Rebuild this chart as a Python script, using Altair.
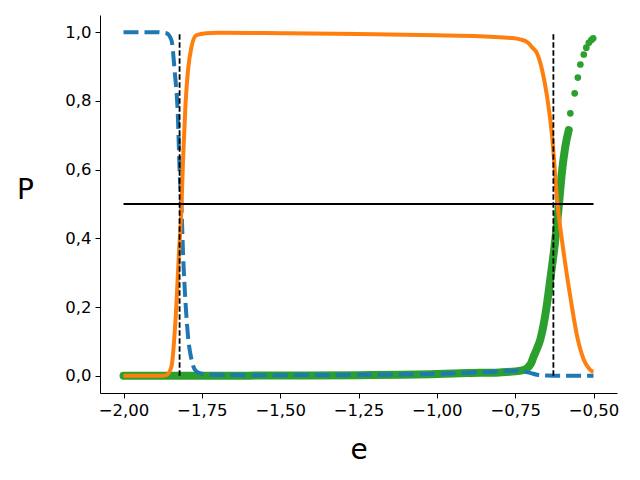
import altair as alt
import pandas as pd

# ---- data ----
blue_x = [-2.0, -1.90, -1.863, -1.847, -1.837, -1.826, -1.821, -1.815, -1.810, -1.802, -1.794,
          -1.783, -1.768, -1.75, -1.714, -1.6, -1.5, -1.25, -1.0, -0.9, -0.85, -0.8, -0.75,
          -0.73, -0.70, -0.68, -0.65, -0.6, -0.55, -0.5]
blue_y = [1.0, 1.0, 0.997, 0.977, 0.89, 0.744, 0.599, 0.492, 0.357, 0.212, 0.114,
          0.047, 0.013, 0.006, 0.003, 0.002, 0.002, 0.003, 0.006, 0.009, 0.011, 0.013, 0.015,
          0.014, 0.008, 0.003, 0.001, 0.0, 0.0, 0.0]

orange_x = [-2.0, -1.88, -1.863, -1.847, -1.834, -1.823, -1.815, -1.810, -1.802, -1.794, -1.783,
            -1.768, -1.736, -1.70, -1.5, -1.25, -1.0, -0.862, -0.80, -0.76, -0.734, -0.71,
            -0.695, -0.680, -0.664, -0.648, -0.632, -0.616, -0.595, -0.574, -0.552, -0.531,
            -0.515, -0.504, -0.5]
orange_y = [0.0, 0.0, 0.002, 0.027, 0.163, 0.357, 0.492, 0.628, 0.793, 0.89, 0.957,
            0.991, 0.997, 0.998, 0.997, 0.995, 0.991, 0.988, 0.985, 0.983, 0.979, 0.97,
            0.955, 0.938, 0.89, 0.812, 0.696, 0.512, 0.357, 0.23, 0.114, 0.047,
            0.022, 0.013, 0.012]

# dense (overlapping) part of the green dotted series
green_dense_x = [-2.0, -1.75, -1.5, -1.25, -1.0, -0.9, -0.8, -0.75, -0.723, -0.70, -0.691,
                 -0.680, -0.670, -0.659, -0.648, -0.638, -0.627, -0.619, -0.611, -0.600,
                 -0.590, -0.579]
green_dense_y = [0.0, 0.0, 0.001, 0.002, 0.005, 0.008, 0.010, 0.013, 0.017, 0.035, 0.056,
                 0.08, 0.105, 0.15, 0.212, 0.28, 0.357, 0.42, 0.492, 0.599, 0.667, 0.715]
# separate dots at the end of the green series
green_dot_x = [-0.574, -0.560, -0.550, -0.542, -0.531, -0.523, -0.515, -0.507, -0.501]
green_dot_y = [0.764, 0.822, 0.868, 0.906, 0.935, 0.955, 0.969, 0.977, 0.982]

vline_x = [-1.821, -0.628]
vline_y0 = [0.0, 0.0]
vline_y1 = [1.0, 1.0]
hline_y = [0.5]
hline_x0 = [-2.0]
hline_x1 = [-0.5]

x_ticks = [-2.0, -1.75, -1.5, -1.25, -1.0, -0.75, -0.5]
y_ticks = [0.0, 0.2, 0.4, 0.6, 0.8, 1.0]

BLUE, ORANGE, GREEN = "#1f77b4", "#ff7f0e", "#2ca02c"
FONT = "DejaVu Sans"

xscale = alt.Scale(domain=[-2.075, -0.425], nice=False, zero=False)
yscale = alt.Scale(domain=[-0.05, 1.05], nice=False, zero=False)

xaxis = alt.Axis(values=x_ticks, title="e", grid=False,
                 labelExpr="replace(format(datum.value, '.2f'), '.', ',')",
                 titleFontSize=28, titleFontWeight="normal", titleY=65,
                 titleBaseline="alphabetic")
yaxis = alt.Axis(values=y_ticks, title="P", grid=False,
                 labelExpr="replace(format(datum.value, '.1f'), '.', ',')",
                 titleFontSize=28, titleFontWeight="normal", titleAngle=0,
                 titleX=-75, titleY=183, titleAlign="center", titleBaseline="alphabetic")

X = lambda: alt.X("x:Q", scale=xscale, axis=xaxis)
Y = lambda: alt.Y("y:Q", scale=yscale, axis=yaxis)

df_blue = pd.DataFrame({"x": blue_x, "y": blue_y})
df_orange = pd.DataFrame({"x": orange_x, "y": orange_y})
df_gd = pd.DataFrame({"x": green_dense_x, "y": green_dense_y})
df_gp = pd.DataFrame({"x": green_dot_x, "y": green_dot_y})
df_v = pd.DataFrame({"x": vline_x, "y": vline_y0, "y2": vline_y1})
df_h = pd.DataFrame({"x": hline_x0, "x2": hline_x1, "y": hline_y})

green_line = alt.Chart(df_gd).mark_line(color=GREEN, strokeWidth=8, strokeCap="round",
                                        strokeJoin="round", interpolate="monotone").encode(x=X(), y=Y())
green_pts = alt.Chart(df_gp).mark_circle(color=GREEN, size=45, opacity=1).encode(x=X(), y=Y())
blue = alt.Chart(df_blue).mark_line(color=BLUE, strokeWidth=4, strokeDash=[15, 6],
                                    interpolate="monotone").encode(x=X(), y=Y())
orange = alt.Chart(df_orange).mark_line(color=ORANGE, strokeWidth=4,
                                        interpolate="monotone").encode(x=X(), y=Y())
vlines = alt.Chart(df_v).mark_rule(color="black", strokeWidth=1.8, strokeDash=[5.5, 2.5]).encode(
    x=X(), y=Y(), y2="y2")
hline = alt.Chart(df_h).mark_rule(color="black", strokeWidth=1.8).encode(
    x=X(), x2="x2", y=Y())

chart = alt.layer(green_line, green_pts, blue, orange, vlines, hline).properties(
    width=517, height=378,
    autosize=alt.AutoSizeParams(type="none"),
    padding={"left": 92, "top": 7, "right": 15, "bottom": 75},
).configure_view(stroke=None).configure_axis(
    labelFont=FONT, titleFont=FONT, labelFontSize=16.5, labelColor="black",
    titleColor="black", domainColor="black", tickColor="black", tickSize=5,
    domainWidth=1, tickWidth=1, labelPadding=4,
)

chart.save("out.html", embed_options={"renderer": "svg", "actions": False})
